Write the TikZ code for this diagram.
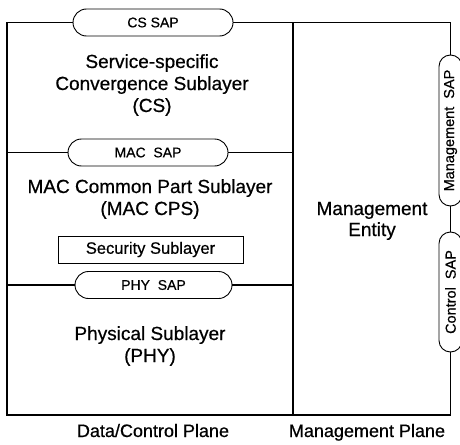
\documentclass[tikz,border=0pt]{standalone}
\usepackage{fontspec}
\setmainfont{Liberation Sans}[FakeBold=0.6]
\usetikzlibrary{shapes.misc}
\begin{document}
\begin{tikzpicture}[x=1pt,y=-1pt,
  frame/.style={line width=1.1pt},
  sap/.style={rounded rectangle, draw, line width=0.9pt, inner sep=0pt,
    minimum height=27pt, font=\fontsize{14}{15}\selectfont},
  vsap/.style={rounded rectangle, draw, line width=0.9pt, inner sep=0pt,
    minimum height=23pt, rotate=90, font=\fontsize{14.5}{15}\selectfont},
  secbox/.style={draw, line width=0.9pt, inner sep=0pt, minimum width=185pt,
    minimum height=27pt, font=\fontsize{16.5}{18}\selectfont},
  lbl/.style={anchor=base, inner sep=0pt, font=\fontsize{19}{22}\selectfont},
  plane/.style={anchor=base, inner sep=0pt, font=\fontsize{18}{20}\selectfont}]
\useasboundingbox (0,0) rectangle (460,444);
% corner coordinates
\coordinate (tl) at (7,22.5);
\coordinate (tr) at (450.5,22.5);
\coordinate (bl) at (7,415);
\coordinate (br) at (450.5,415);
\coordinate (dt) at (293,22.5);
\coordinate (db) at (293,415);
\coordinate (macl) at (7,152.5);
\coordinate (macr) at (293,152.5);
\coordinate (phyl) at (7,285);
\coordinate (phyr) at (293,285);
% SAP capsules
\node[sap, minimum width=160pt] (cssap) at (153,22.5) {CS SAP};
\node[sap, minimum width=160pt] (macsap) at (148,152.5) {MAC\ \ SAP};
\node[sap, minimum width=157pt] (physap) at (153.5,285) {PHY\ \ SAP};
\node[vsap, minimum width=151pt] (mgmtsap) at (450.5,130.5) {Management\ \ SAP};
\node[vsap, minimum width=120pt] (ctrlsap) at (450.5,292) {Control\ \ SAP};
% frame
\draw[frame] (cssap.west) -- (tl) -- (bl) -- (br) -- (ctrlsap.west);
\draw[frame] (cssap.east) -- (tr) -- (mgmtsap.east);
\draw[frame] (mgmtsap.west) -- (ctrlsap.east);
\draw[frame] (dt) -- (db);
\draw[frame] (macl) -- (macsap.west);
\draw[frame] (macsap.east) -- (macr);
\draw[frame] (phyl) -- (physap.west);
\draw[frame] (physap.east) -- (phyr);
% security box
\node[secbox] (sec) at (150.5,249.5) {Security Sublayer};
% texts
\node[lbl] (cs1) at (152,68) {Service-specific};
\node[lbl] (cs2) at (152,90) {Convergence Sublayer};
\node[lbl] (cs3) at (152,112) {(CS)};
\node[lbl] (mac1) at (150,193) {MAC Common Part Sublayer};
\node[lbl] (mac2) at (150,215) {(MAC CPS)};
\node[lbl] (phy1) at (150,340) {Physical Sublayer};
\node[lbl] (phy2) at (150,362) {(PHY)};
\node[lbl] (me1) at (372,215) {Management};
\node[lbl] (me2) at (372,236) {Entity};
\node[plane] (dcp) at (153,437) {Data/Control Plane};
\node[plane] (mp) at (367,437) {Management Plane};
\end{tikzpicture}
\end{document}
